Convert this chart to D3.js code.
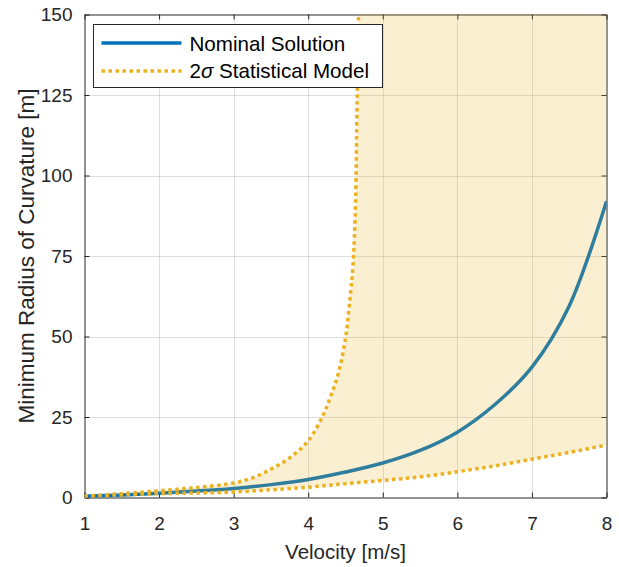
<!DOCTYPE html>
<html>
<head>
<meta charset="utf-8">
<script src="https://cdn.jsdelivr.net/npm/d3@7"></script>
<style>
  html, body { margin: 0; padding: 0; background: #fff; }
  svg { display: block; font-family: "Liberation Sans", Arial, Helvetica, sans-serif; }
</style>
</head>
<body>
<svg id="chart" width="619" height="567"></svg>
<script>
// Velocity samples [m/s] for the nominal solution and the lower 2σ bound
const velocity   = [1, 1.5, 2, 2.5, 3, 3.5, 4, 4.5, 5, 5.5, 6, 6.5, 7, 7.5, 8];
// Minimum radius of curvature [m], nominal solution
const nominal    = [0.4, 0.8, 1.3, 2.0, 2.8, 4.0, 5.6, 7.9, 10.7, 14.6, 20.3, 28.8, 40.5, 59.5, 92.0];
// Lower 2σ bound of the statistical model
const lowerBound = [0.4, 0.8, 1.2, 1.4, 1.7, 2.4, 3.2, 4.3, 5.3, 6.4, 8.0, 9.8, 11.9, 14.0, 16.3];
// Upper 2σ bound: rises sharply and leaves the axis top near 4.7 m/s
const upperVelocity = [1, 1.5, 2, 2.5, 3, 3.25, 3.5, 3.75, 4, 4.2, 4.3, 4.4, 4.5, 4.55, 4.6, 4.635, 4.655, 4.675];
const upperBound    = [0.4, 1.2, 2.1, 3.1, 4.5, 6.1, 8.8, 12.3, 17.6, 25.6, 31.4, 38.2, 49.5, 59.5, 72.0, 92.0, 123.0, 150.0];

const xTicks = [1, 2, 3, 4, 5, 6, 7, 8];
const yTicks = [0, 25, 50, 75, 100, 125, 150];

const seriesNames = ["Nominal Solution", "Statistical Model"];

const blue = "#0072BD";
const gold = "#EDB120";
const axisColor = "#262626";

const svg = d3.select("#chart");

const x = d3.scaleLinear().domain([1, 8]).range([84.5, 606.5]);
const y = d3.scaleLinear().domain([0, 150]).range([497.5, 14.5]);

const [x0, x1] = x.range();
const [y0, y1] = y.range();

svg.append("defs").append("clipPath").attr("id", "plot-clip")
  .append("rect")
  .attr("x", x0).attr("y", y1)
  .attr("width", x1 - x0).attr("height", y0 - y1);

// grid
const grid = svg.append("g").attr("stroke", axisColor).attr("stroke-opacity", 0.15).attr("stroke-width", 1);
grid.selectAll(".gx").data(xTicks.slice(1, -1)).join("line")
  .attr("x1", d => Math.round(x(d)) + 0.5).attr("x2", d => Math.round(x(d)) + 0.5)
  .attr("y1", y1).attr("y2", y0);
grid.selectAll(".gy").data(yTicks.slice(1, -1)).join("line")
  .attr("y1", d => Math.round(y(d)) + 0.5).attr("y2", d => Math.round(y(d)) + 0.5)
  .attr("x1", x0).attr("x2", x1);

// axes (ticks point inward, box on all four sides)
function styleAxis(g) {
  g.selectAll("path.domain").attr("stroke", axisColor).attr("stroke-width", 1);
  g.selectAll(".tick line").attr("stroke", axisColor).attr("stroke-width", 1);
  g.selectAll(".tick text").attr("fill", axisColor).attr("font-size", "19px")
    .attr("font-family", "Liberation Sans, Arial, sans-serif");
}
svg.append("g").attr("transform", `translate(0,${y0})`)
  .call(d3.axisBottom(x).tickValues(xTicks).tickFormat(d3.format("d")).tickSize(-5).tickSizeOuter(0).tickPadding(19))
  .call(styleAxis);
svg.append("g").attr("transform", `translate(0,${y1})`)
  .call(d3.axisTop(x).tickValues(xTicks).tickFormat("").tickSize(-5).tickSizeOuter(0))
  .call(styleAxis);
svg.append("g").attr("transform", `translate(${x0},0)`)
  .call(d3.axisLeft(y).tickValues(yTicks).tickFormat(d3.format("d")).tickSize(-5).tickSizeOuter(0).tickPadding(12))
  .call(styleAxis);
svg.append("g").attr("transform", `translate(${x1},0)`)
  .call(d3.axisRight(y).tickValues(yTicks).tickFormat("").tickSize(-5).tickSizeOuter(0))
  .call(styleAxis);

// axis titles
svg.append("text")
  .attr("x", (x0 + x1) / 2).attr("y", 559)
  .attr("text-anchor", "middle").attr("font-size", "20.5px").attr("fill", axisColor)
  .text("Velocity [m/s]");
svg.append("text")
  .attr("transform", `translate(33.8,${(y0 + y1) / 2}) rotate(-90)`)
  .attr("text-anchor", "middle").attr("font-size", "22.5px").attr("fill", axisColor)
  .text("Minimum Radius of Curvature [m]");

const plot = svg.append("g").attr("clip-path", "url(#plot-clip)");

const nominalPts = velocity.map((v, i) => [v, nominal[i]]);
const lowerPts = velocity.map((v, i) => [v, lowerBound[i]]);
const upperPts = upperVelocity.map((v, i) => [v, upperBound[i]]);

const line = d3.line().x(d => x(d[0])).y(d => y(d[1])).curve(d3.curveCatmullRom.alpha(0.5));

// nominal solution
plot.append("path").datum(nominalPts)
  .attr("d", line).attr("fill", "none")
  .attr("stroke", blue).attr("stroke-width", 3.5).attr("stroke-linejoin", "round");

// 2σ bounds
[upperPts, lowerPts].forEach(pts => {
  plot.append("path").datum(pts)
    .attr("d", line).attr("fill", "none")
    .attr("stroke", gold).attr("stroke-width", 3.5)
    .attr("stroke-dasharray", "3.5,3.5");
});

// shaded 2σ band: upper bound, along the axis top, back along the lower bound
const upperPath = line(upperPts);
const lowerRev = line(lowerPts.slice().reverse());
const bandD = upperPath + `L${x(8)},${y(150)}L${x(8)},${y(lowerBound[lowerBound.length - 1])}` + lowerRev.replace(/^M/, "L") + "Z";
svg.append("path")
  .attr("d", bandD)
  .attr("fill", gold).attr("fill-opacity", 0.2).attr("stroke", "none")
  .attr("clip-path", "url(#plot-clip)");

// legend
const legend = svg.append("g");
legend.append("rect")
  .attr("x", 93.5).attr("y", 24.5).attr("width", 289).attr("height", 63)
  .attr("fill", "#fff").attr("stroke", axisColor).attr("stroke-width", 1);
legend.append("line")
  .attr("x1", 101.5).attr("x2", 181.5).attr("y1", 43).attr("y2", 43)
  .attr("stroke", blue).attr("stroke-width", 3.3);
legend.append("line")
  .attr("x1", 101.5).attr("x2", 181.5).attr("y1", 71).attr("y2", 71)
  .attr("stroke", gold).attr("stroke-width", 3.3).attr("stroke-dasharray", "3.5,3.5");
legend.append("text")
  .attr("x", 189.5).attr("y", 50.5).attr("font-size", "20.6px").attr("fill", "#000")
  .text(seriesNames[0]);
const t2 = legend.append("text")
  .attr("x", 189.5).attr("y", 78.3).attr("font-size", "20.6px").attr("fill", "#000");
t2.append("tspan").text("2");
t2.append("tspan").attr("font-style", "italic").text("σ");
t2.append("tspan").text(" " + seriesNames[1]);
</script>
</body>
</html>
